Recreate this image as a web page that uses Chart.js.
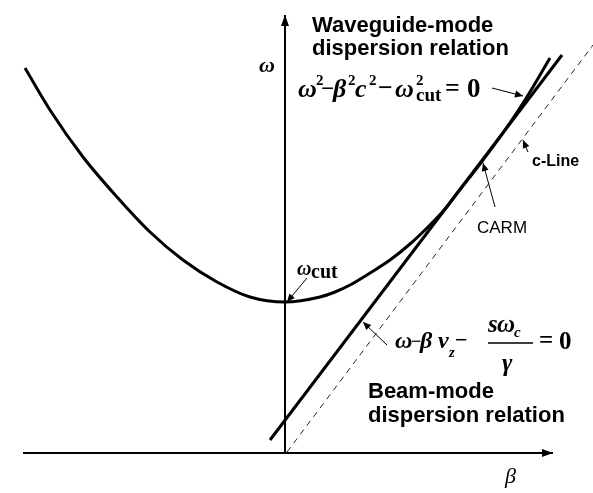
<!DOCTYPE html>
<html>
<head>
<meta charset="utf-8">
<script src="https://cdn.jsdelivr.net/npm/chart.js@4.4.1/dist/chart.umd.min.js"></script>
<style>
  html, body { margin: 0; padding: 0; background: #fff; }
</style>
</head>
<body>
<canvas id="dispersion" width="593" height="493"></canvas>
<script>
// waveguide mode, omega^2 - beta^2 c^2 - omega_cut^2 = 0
const waveguideBeta  = [-2.60, -2.35, -2.02, -1.68, -1.35, -1.02, -0.68, -0.35, 0.00, 0.35, 0.50, 0.65, 0.85, 1.05, 1.25, 1.45, 1.60, 1.73, 1.95, 2.20, 2.40, 2.65];
const waveguideOmega = [ 3.85,  3.43,  2.96,  2.56,  2.21,  1.93,  1.71,  1.56, 1.51, 1.56, 1.61, 1.68, 1.80, 1.93, 2.09, 2.28, 2.44, 2.61, 2.89, 3.23, 3.53, 3.95];

// beam mode line and the light line
const beamBeta   = [-0.15, 2.77];
const beamOmega  = [ 0.13, 3.98];
const cLineBeta  = [ 0.02, 3.08];
const cLineOmega = [ 0.01, 4.08];

// coordinate axes
const betaAxisBeta   = [-2.62, 2.68];
const betaAxisOmega  = [ 0.00, 0.00];
const omegaAxisBeta  = [ 0.00, 0.00];
const omegaAxisOmega = [ 0.00, 4.38];

const toPoints = (xs, ys) => xs.map((v, i) => ({ x: v, y: ys[i] }));

const serif = '"Liberation Serif", "Times New Roman", serif';
const sans = '"Liberation Sans", Arial, sans-serif';

// little arrows: [fromBeta, fromOmega, toBeta, toOmega]
const pointers = [
  [2.07, 3.65, 2.38, 3.57],   // waveguide equation -> curve
  [0.22, 1.75, 0.02, 1.51],   // omega_cut
  [1.02, 1.08, 0.78, 1.31],   // beam equation -> beam line
  [2.10, 2.46, 1.98, 2.90],   // CARM
  [2.43, 3.01, 2.38, 3.13]    // c-Line
];

// text pieces: [text, x, baseline, font]
const labels = [
  ['Waveguide-mode', 312, 32, 'bold 22px ' + sans],
  ['dispersion relation', 312, 55, 'bold 22px ' + sans],
  ['Beam-mode', 368, 398, 'bold 22px ' + sans],
  ['dispersion relation', 368, 422, 'bold 22px ' + sans],
  ['c-Line', 532, 166, 'bold 16px ' + sans],
  ['CARM', 477, 233, '17px ' + sans],
  ['ω', 259, 72, 'italic bold 22px ' + serif],
  ['β', 505, 483, 'italic 22px ' + serif],
  // omega_cut marker
  ['ω', 297, 275, 'italic bold 20px ' + serif],
  ['cut', 311, 278, 'bold 20px ' + serif],
  // waveguide equation
  ['ω', 298, 97, 'italic bold 26px ' + serif],
  ['2', 316, 85, 'bold 15px ' + serif],
  ['−', 321, 96, 'bold 23px ' + serif],
  ['β', 333, 97, 'italic bold 26px ' + serif],
  ['2', 348, 85, 'bold 15px ' + serif],
  ['c', 355, 97, 'italic bold 26px ' + serif],
  ['2', 369, 85, 'bold 15px ' + serif],
  ['−', 378, 96, 'bold 26px ' + serif],
  ['ω', 395, 97, 'italic bold 26px ' + serif],
  ['2', 416, 85, 'bold 15px ' + serif],
  ['cut', 416, 101, 'bold 19px ' + serif],
  ['=', 445, 96, 'bold 26px ' + serif],
  ['0', 467, 97, 'bold 27px ' + serif],
  // beam equation
  ['ω', 395, 348, 'italic bold 24px ' + serif],
  ['−', 411, 347, 'bold 18px ' + serif],
  ['β', 420, 348, 'italic bold 24px ' + serif],
  ['v', 438, 348, 'italic bold 24px ' + serif],
  ['z', 449, 357, 'italic bold 15px ' + serif],
  ['−', 455, 347, 'bold 22px ' + serif],
  ['s', 488, 332, 'italic bold 25px ' + serif],
  ['ω', 497, 332, 'italic bold 25px ' + serif],
  ['c', 514, 337, 'italic bold 15px ' + serif],
  ['γ', 502, 371, 'italic bold 25px ' + serif],
  ['=', 539, 348, 'bold 25px ' + serif],
  ['0', 559, 349, 'bold 25px ' + serif]
];

function arrowHead(ctx, x0, y0, x1, y1, len, half) {
  const a = Math.atan2(y1 - y0, x1 - x0);
  ctx.beginPath();
  ctx.moveTo(x1, y1);
  ctx.lineTo(x1 - len * Math.cos(a) + half * Math.sin(a), y1 - len * Math.sin(a) - half * Math.cos(a));
  ctx.lineTo(x1 - len * Math.cos(a) - half * Math.sin(a), y1 - len * Math.sin(a) + half * Math.cos(a));
  ctx.closePath();
  ctx.fill();
}

const annotate = {
  id: 'annotate',
  afterDatasetsDraw(chart) {
    const { ctx, scales: { x, y } } = chart;
    ctx.save();
    ctx.fillStyle = '#000';
    ctx.strokeStyle = '#000';

    // heads on the two axes
    const bx = betaAxisBeta.map(v => x.getPixelForValue(v));
    const by = betaAxisOmega.map(v => y.getPixelForValue(v));
    arrowHead(ctx, bx[0], by[0], bx[1], by[1], 11, 4);
    const ox = omegaAxisBeta.map(v => x.getPixelForValue(v));
    const oy = omegaAxisOmega.map(v => y.getPixelForValue(v));
    arrowHead(ctx, ox[0], oy[0], ox[1], oy[1], 11, 4);

    // pointer arrows
    ctx.lineWidth = 1;
    pointers.forEach(([b0, w0, b1, w1]) => {
      const x0 = x.getPixelForValue(b0), y0 = y.getPixelForValue(w0);
      const x1 = x.getPixelForValue(b1), y1 = y.getPixelForValue(w1);
      ctx.beginPath();
      ctx.moveTo(x0, y0);
      ctx.lineTo(x1, y1);
      ctx.stroke();
      arrowHead(ctx, x0, y0, x1, y1, 8, 3.5);
    });

    // fraction bar of the beam equation
    ctx.lineWidth = 1.5;
    ctx.beginPath();
    ctx.moveTo(488, 343);
    ctx.lineTo(533, 343);
    ctx.stroke();

    ctx.textBaseline = 'alphabetic';
    ctx.textAlign = 'left';
    labels.forEach(([t, lx, ly, f]) => {
      ctx.font = f;
      ctx.fillText(t, lx, ly);
    });
    ctx.restore();
  }
};

const line = (data, width, extra) => Object.assign({
  data, showLine: true, borderColor: '#000', borderWidth: width,
  pointRadius: 0, fill: false
}, extra || {});

new Chart(document.getElementById('dispersion'), {
  type: 'scatter',
  data: {
    datasets: [
      line(toPoints(betaAxisBeta, betaAxisOmega), 2),
      line(toPoints(omegaAxisBeta, omegaAxisOmega), 2),
      line(toPoints(cLineBeta, cLineOmega), 1, { borderDash: [6, 5], borderColor: '#222' }),
      line(toPoints(beamBeta, beamOmega), 3),
      line(toPoints(waveguideBeta, waveguideOmega), 3, { cubicInterpolationMode: 'monotone' })
    ]
  },
  options: {
    responsive: false,
    animation: false,
    devicePixelRatio: 1,
    layout: { padding: 0 },
    plugins: { legend: { display: false }, tooltip: { enabled: false } },
    scales: {
      x: { type: 'linear', min: -2.85, max: 3.08, display: false },
      y: { type: 'linear', min: -0.40, max: 4.53, display: false }
    }
  },
  plugins: [annotate]
});
</script>
</body>
</html>
